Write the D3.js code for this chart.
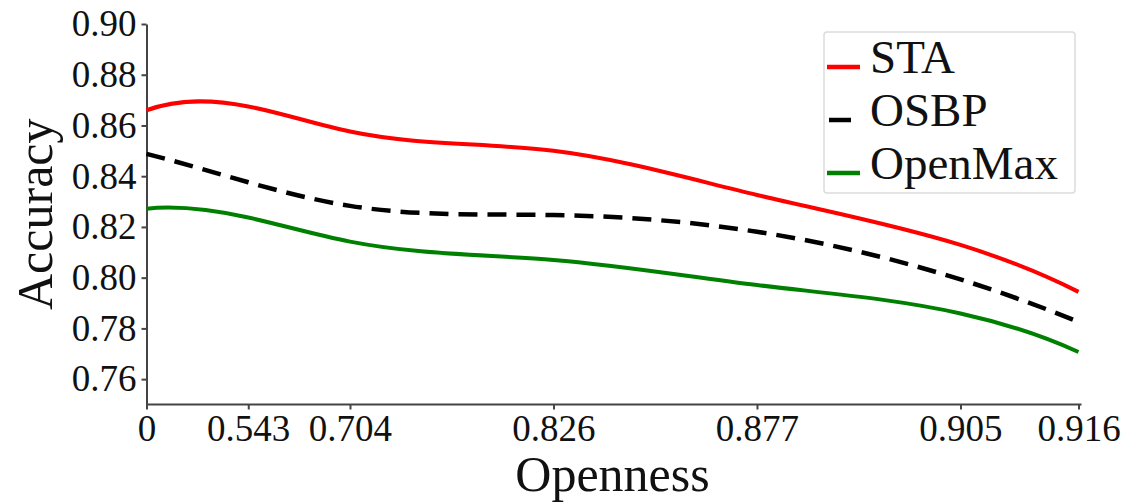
<!DOCTYPE html>
<html>
<head>
<meta charset="utf-8">
<script src="https://cdn.jsdelivr.net/npm/d3@7"></script>
<style>
  body { margin: 0; background: #fff; }
  text { font-family: "Liberation Serif", "Times New Roman", serif; fill: #111; }
  .axis path, .axis line { stroke: #444; stroke-width: 2; }
</style>
</head>
<body>
<div id="chart"></div>
<script>
// openness ticks: position along the axis and their labels
var openPos = [0, 1, 2, 4, 6, 8, 9.16];
var openLabels = ["0", "0.543", "0.704", "0.826", "0.877", "0.905", "0.916"];

// accuracy per method at each openness
var staVals = [0.866, 0.8675, 0.8576, 0.8500, 0.8326, 0.8129, 0.7944];
var osbpVals = [0.8488, 0.8376, 0.8283, 0.8247, 0.8181, 0.7993, 0.7826];
var openMaxVals = [0.8272, 0.8237, 0.8142, 0.8070, 0.7971, 0.7859, 0.7707];

var yTicks = [0.76, 0.78, 0.80, 0.82, 0.84, 0.86, 0.88, 0.90];

var series = [
    {name: "STA", vals: staVals, color: "#ff0000", dash: null},
    {name: "OSBP", vals: osbpVals, color: "#000000", dash: "19,10"},
    {name: "OpenMax", vals: openMaxVals, color: "#008000", dash: null}
];

var width = 1130, height = 502;

var svg = d3.select("#chart").append("svg")
    .attr("width", width)
    .attr("height", height);

var x = d3.scaleLinear()
    .domain([0, 9.16])
    .range([146.5, 1078.5]);

var y = d3.scaleLinear()
    .domain([0.75, 0.90])
    .range([404.5, 24]);

// axes
var xAxis = svg.append("g")
    .attr("class", "axis")
    .attr("transform", "translate(0," + y(0.75) + ")")
    .call(d3.axisBottom(x)
        .tickValues(openPos)
        .tickFormat(function(d, i) { return openLabels[i]; })
        .tickSize(5)
        .tickSizeOuter(0)
        .tickPadding(5));
xAxis.select(".domain").attr("d", "M" + x(0) + ",0H" + (x(9.16) + 3));
xAxis.selectAll("text").style("font-size", "37px");

var yAxis = svg.append("g")
    .attr("class", "axis")
    .attr("transform", "translate(" + x(0) + ",0)")
    .call(d3.axisLeft(y)
        .tickValues(yTicks)
        .tickFormat(d3.format(".2f"))
        .tickSize(5)
        .tickSizeOuter(0)
        .tickPadding(5));
yAxis.selectAll("text").style("font-size", "37px");

// axis titles
svg.append("text")
    .attr("x", (x(0) + x(9.16)) / 2)
    .attr("y", 491)
    .attr("text-anchor", "middle")
    .style("font-size", "50px")
    .text("Openness");

svg.append("text")
    .attr("transform", "translate(52," + ((y(0.75) + y(0.90)) / 2) + ") rotate(-90)")
    .attr("text-anchor", "middle")
    .style("font-size", "50px")
    .text("Accuracy");

// cubic spline (not-a-knot) through the points, drawn as bezier segments
function solve(A, b) {
    var n = b.length;
    for (var k = 0; k < n; k++) {
        var p = k;
        for (var r = k + 1; r < n; r++) if (Math.abs(A[r][k]) > Math.abs(A[p][k])) p = r;
        var t = A[k]; A[k] = A[p]; A[p] = t;
        var tb = b[k]; b[k] = b[p]; b[p] = tb;
        for (var r2 = k + 1; r2 < n; r2++) {
            var f = A[r2][k] / A[k][k];
            for (var c = k; c < n; c++) A[r2][c] -= f * A[k][c];
            b[r2] -= f * b[k];
        }
    }
    var xs = new Array(n);
    for (var i = n - 1; i >= 0; i--) {
        var s = b[i];
        for (var j = i + 1; j < n; j++) s -= A[i][j] * xs[j];
        xs[i] = s / A[i][i];
    }
    return xs;
}

function splinePath(px, py) {
    var n = px.length, h = [];
    for (var i = 0; i < n - 1; i++) h.push(px[i + 1] - px[i]);
    var A = [], b = [];
    for (var r = 0; r < n; r++) { A.push(new Array(n).fill(0)); b.push(0); }
    // not-a-knot ends
    A[0][0] = -h[1]; A[0][1] = h[0] + h[1]; A[0][2] = -h[0];
    A[n - 1][n - 3] = -h[n - 2]; A[n - 1][n - 2] = h[n - 3] + h[n - 2]; A[n - 1][n - 1] = -h[n - 3];
    for (var k = 1; k < n - 1; k++) {
        A[k][k - 1] = h[k - 1];
        A[k][k] = 2 * (h[k - 1] + h[k]);
        A[k][k + 1] = h[k];
        b[k] = 6 * ((py[k + 1] - py[k]) / h[k] - (py[k] - py[k - 1]) / h[k - 1]);
    }
    var M = solve(A, b);
    var p = d3.path();
    p.moveTo(px[0], py[0]);
    for (var s = 0; s < n - 1; s++) {
        var hs = h[s], sl = (py[s + 1] - py[s]) / hs;
        var m0 = sl - hs * (2 * M[s] + M[s + 1]) / 6;
        var m1 = sl + hs * (M[s] + 2 * M[s + 1]) / 6;
        p.bezierCurveTo(px[s] + hs / 3, py[s] + m0 * hs / 3,
                        px[s + 1] - hs / 3, py[s + 1] - m1 * hs / 3,
                        px[s + 1], py[s + 1]);
    }
    return p.toString();
}

svg.selectAll(".curve")
    .data(series)
    .enter().append("path")
    .attr("class", "curve")
    .attr("d", function(d) {
        return splinePath(openPos.map(x), d.vals.map(y));
    })
    .attr("fill", "none")
    .attr("stroke", function(d) { return d.color; })
    .attr("stroke-width", function(d) { return d.dash ? 4.5 : 4; })
    .attr("stroke-dasharray", function(d) { return d.dash; });

// legend
var legend = svg.append("g").attr("transform", "translate(824,32)");
legend.append("rect")
    .attr("width", 251).attr("height", 161)
    .attr("rx", 3)
    .attr("fill", "#fff")
    .attr("stroke", "#dcdcdc")
    .attr("stroke-width", 1.5);

var rows = legend.selectAll(".row")
    .data(series)
    .enter().append("g")
    .attr("transform", function(d, i) { return "translate(0," + (35 + i * 53) + ")"; });

rows.append("line")
    .attr("x1", function(d) { return d.dash ? 5 : 3; })
    .attr("x2", function(d) { return d.dash ? 27 : 36; })
    .attr("y1", 0).attr("y2", 0)
    .attr("stroke", function(d) { return d.color; })
    .attr("stroke-width", 4.5);

rows.append("text")
    .attr("x", 46)
    .attr("y", 6)
    .style("font-size", "47px")
    .text(function(d) { return d.name; });
</script>
</body>
</html>
